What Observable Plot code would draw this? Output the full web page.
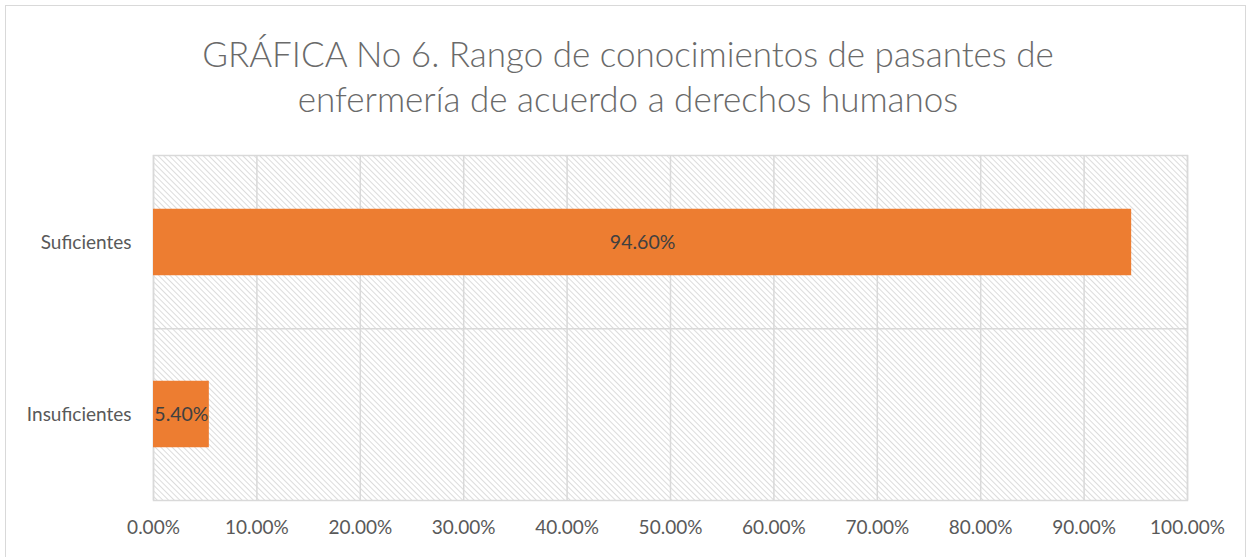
<!DOCTYPE html>
<html>
<head>
<meta charset="utf-8">
<script src="https://cdn.jsdelivr.net/npm/d3@7"></script>
<script src="https://cdn.jsdelivr.net/npm/@observablehq/plot@0.6"></script>
<style>
  html, body { margin: 0; padding: 0; background: #fff; }
  #wrap { position: relative; width: 1250px; height: 557px; overflow: hidden; }
  #border { position: absolute; left: 5px; top: 5px; width: 1241px; height: 600px; border: 1.5px solid #d9d9d9; box-sizing: border-box; }
  #title { position: absolute; left: 0; top: 31px; width: 1256px; text-align: center;
           font-family: Lato, sans-serif; font-weight: 300; font-size: 35px; line-height: 45px; color: #6a6a6a; }
  #chart { position: absolute; left: 0; top: 140px; }
</style>
</head>
<body>
<div id="wrap">
  <div id="border"></div>
  <div id="title">GRÁFICA No 6. Rango de conocimientos de pasantes de<br>enfermería de acuerdo a derechos humanos</div>
  <div id="chart"></div>
</div>
<script>
const categories = ["Suficientes", "Insuficientes"];
const values = [94.6, 5.4];
const labels = ["94.60%", "5.40%"];
const xTicks = [0, 10, 20, 30, 40, 50, 60, 70, 80, 90, 100];

const data = categories.map((c, i) => ({category: c, value: values[i], label: labels[i]}));

const plot = Plot.plot({
  width: 1250,
  height: 417,
  marginTop: 15,
  marginBottom: 57,
  marginLeft: 153,
  marginRight: 63,
  style: {fontFamily: "Lato, sans-serif", fontSize: "19px", color: "#595959", background: "transparent"},
  x: {domain: [0, 100], ticks: xTicks, tickFormat: d => d.toFixed(2) + "%", tickSize: 0, tickPadding: 20, label: null},
  y: {domain: categories, padding: 0, tickSize: 0, tickPadding: 22, label: null},
  marks: [
    Plot.frame({fill: "url(#hatch)", stroke: "none"}),
    Plot.ruleX(xTicks, {stroke: "#d9d9d9", strokeWidth: 1.5}),
    Plot.ruleY([categories[0]], {stroke: "#d9d9d9", strokeWidth: 1.5, dy: 86.25}),
    Plot.frame({stroke: "#d9d9d9", strokeWidth: 1.5}),
    Plot.barX(data, {x: "value", y: "category", fill: "#ED7D31", insetTop: 52.75, insetBottom: 52.75}),
    Plot.text(data, {x: d => d.value / 2, y: "category", text: "label", fill: "#404040", fontSize: 19.5})
  ]
});

const ns = "http://www.w3.org/2000/svg";
const defs = document.createElementNS(ns, "defs");
defs.innerHTML = `<pattern id="hatch" patternUnits="userSpaceOnUse" width="4" height="4" patternTransform="rotate(-45)">
  <rect width="4" height="4" fill="#ffffff"/>
  <line x1="0" y1="0" x2="0" y2="4" stroke="#d4d4d4" stroke-width="1.6"/>
</pattern>`;
plot.insertBefore(defs, plot.firstChild);
document.getElementById("chart").appendChild(plot);
</script>
</body>
</html>
